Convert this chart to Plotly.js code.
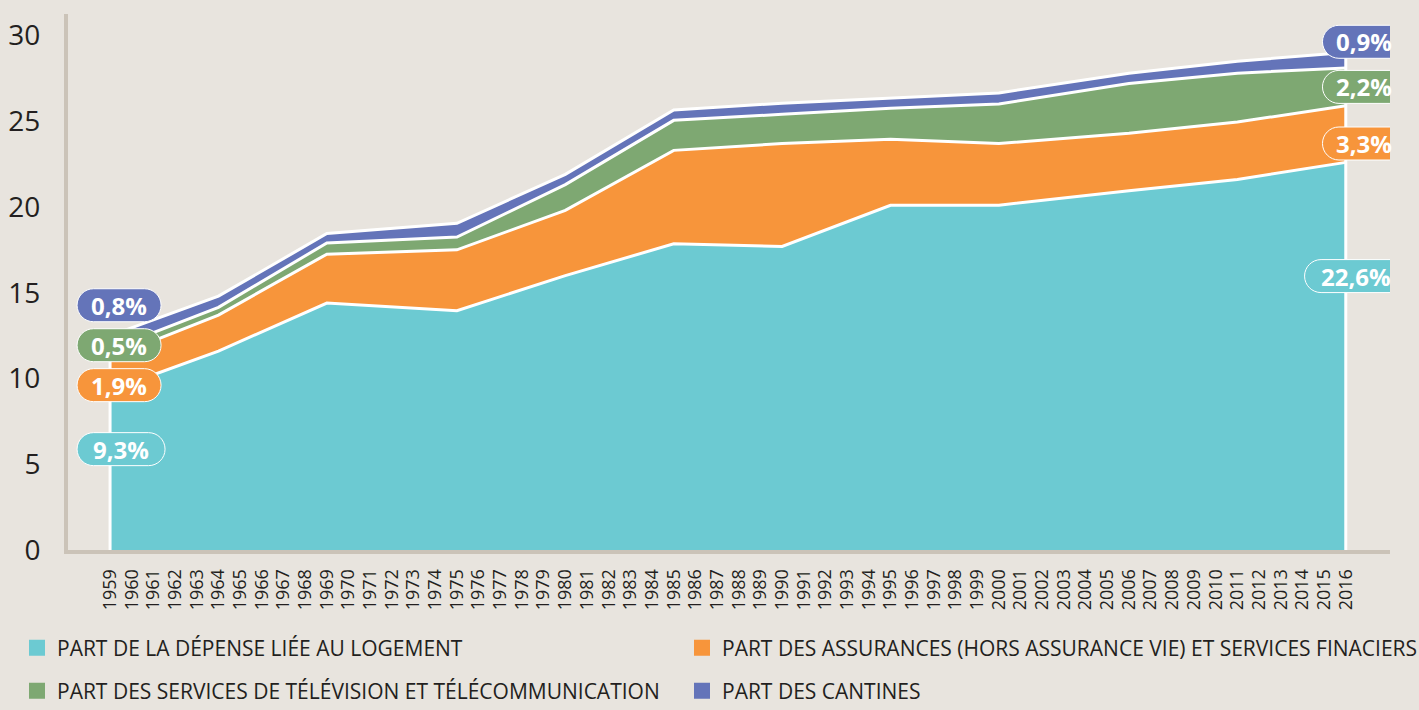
<!DOCTYPE html>
<html>
<head>
<meta charset="utf-8">
<script src="https://cdn.plot.ly/plotly-3.0.1.min.js"></script>
<style>
html,body{margin:0;padding:0;background:#e8e4de;}
#chart{width:1419px;height:710px;}
</style>
</head>
<body>
<div id="chart"></div>
<script>
// ---- DATA ----
const years = [1959, 1964, 1969, 1975, 1980, 1985, 1990, 1995, 2000, 2006, 2011, 2016];
const housing   = [9.3, 11.6, 14.4, 13.95, 16.0, 17.85, 17.7, 20.1, 20.1, 20.95, 21.6, 22.6];
const insurance = [1.9, 2.1, 2.85, 3.55, 3.8, 5.45, 6.0, 3.85, 3.6, 3.35, 3.35, 3.3];
const telecom   = [0.5, 0.45, 0.65, 0.75, 1.5, 1.75, 1.7, 1.8, 2.3, 2.9, 2.85, 2.2];
const canteens  = [0.8, 0.65, 0.55, 0.8, 0.6, 0.6, 0.65, 0.6, 0.65, 0.6, 0.7, 0.9];

const seriesNames = [
  "PART DE LA DÉPENSE LIÉE AU LOGEMENT",
  "PART DES ASSURANCES (HORS ASSURANCE VIE) ET SERVICES FINACIERS",
  "PART DES SERVICES DE TÉLÉVISION ET TÉLÉCOMMUNICATION",
  "PART DES CANTINES"
];
const tickYears = [1959,1960,1961,1962,1963,1964,1965,1966,1967,1968,1969,1970,1971,1972,1973,1974,1975,1976,1977,1978,1979,1980,1981,1982,1983,1984,1985,1986,1987,1988,1989,1990,1991,1992,1993,1994,1995,1996,1997,1998,1999,2000,2001,2002,2003,2004,2005,2006,2007,2008,2009,2010,2011,2012,2013,2014,2015,2016];
const yTicks = [0, 5, 10, 15, 20, 25, 30];
const gridTicks = [5, 10, 15, 20, 25];

// ---- STYLE ----
const colors = ["#6ccad2", "#f7953b", "#7ea872", "#6474b9"];
const bg = "#e8e4de";
const axisColor = "#cbc3b8";
const textColor = "#231f20";
const FONT = "Open Sans, sans-serif";

const series = [housing, insurance, telecom, canteens];

const traces = [];
series.forEach((vals, i) => {
  traces.push({
    x: years, y: vals, type: "scatter", mode: "lines",
    stackgroup: "one", fill: i === 0 ? "tozeroy" : "tonexty",
    fillcolor: colors[i],
    line: {color: "#ffffff", width: 3, shape: "linear"},
    showlegend: false, hoverinfo: "skip", name: seriesNames[i]
  });
});

// white vertical edges at first and last year (from data totals)
const totals = years.map((_, k) => series.reduce((s, arr) => s + arr[k], 0));
[0, years.length - 1].forEach(k => {
  traces.push({
    x: [years[k], years[k]], y: [0, totals[k]], type: "scatter", mode: "lines",
    line: {color: "#ffffff", width: 3}, showlegend: false, hoverinfo: "skip"
  });
});

// legend entries (one legend per entry for exact layout)
const legendIds = ["legend", "legend2", "legend3", "legend4"];
series.forEach((vals, i) => {
  traces.push({
    x: [null], y: [null], type: "scatter", mode: "markers",
    marker: {symbol: "square", size: 17, color: colors[i]},
    name: seriesNames[i], legend: legendIds[i], showlegend: true, hoverinfo: "skip"
  });
});

// ---- value pills ----
const fmt = v => v.toFixed(1).replace(".", ",") + "%";
const pillDefs = [
  // side, series index, y position (axis units), width, center offset (px from anchor year)
  {side: 0, s: 3, y: 14.27, w: 84, dx: 9},
  {side: 0, s: 2, y: 11.94, w: 84, dx: 9},
  {side: 0, s: 1, y: 9.61,  w: 84, dx: 9},
  {side: 0, s: 0, y: 5.88,  w: 88, dx: 11},
  {side: 1, s: 3, y: 29.63, w: 84, dx: 18.7},
  {side: 1, s: 2, y: 27.0,  w: 84, dx: 18.7},
  {side: 1, s: 1, y: 23.7,  w: 84, dx: 18.7},
  {side: 1, s: 0, y: 15.97, w: 102, dx: 9.8}
];
const pillH = 33;
function pillPath(cx, w, h) {
  const r = h / 2, k = 0.5523 * r;
  const x0 = cx - w / 2, x1 = cx + w / 2, y0 = -h / 2, y1 = h / 2;
  return `M${x0 + r},${y0} L${x1 - r},${y0} ` +
    `C${x1 - r + k},${y0} ${x1},${-k} ${x1},0 ` +
    `C${x1},${k} ${x1 - r + k},${y1} ${x1 - r},${y1} ` +
    `L${x0 + r},${y1} ` +
    `C${x0 + r - k},${y1} ${x0},${k} ${x0},0 ` +
    `C${x0},${-k} ${x0 + r - k},${y0} ${x0 + r},${y0} Z`;
}
const shapes = [];
const annotations = [];
pillDefs.forEach(p => {
  const k = p.side === 0 ? 0 : years.length - 1;
  const xa = years[k];
  const val = series[p.s][k];
  shapes.push({
    type: "path", xref: "x", yref: "y", xsizemode: "pixel", ysizemode: "pixel",
    xanchor: xa, yanchor: p.y, path: pillPath(p.dx, p.w, pillH),
    fillcolor: colors[p.s], line: {color: "#ffffff", width: 1}, layer: "above"
  });
  annotations.push({
    x: xa, y: p.y, xref: "x", yref: "y", xshift: p.dx, xanchor: "center", yanchor: "middle",
    text: fmt(val), showarrow: false,
    font: {family: FONT, size: 24, color: "#ffffff", weight: 700}
  });
});

const legendFont = {family: FONT, size: 21, color: textColor};
function legendAt(px, py) {
  return {x: px / 1419, y: 1 - py / 710, xref: "container", yref: "container",
    xanchor: "left", yanchor: "middle", orientation: "h",
    font: legendFont, bgcolor: "rgba(0,0,0,0)", borderwidth: 0,
    itemclick: false, itemdoubleclick: false};
}

const layout = {
  width: 1419, height: 710,
  paper_bgcolor: bg, plot_bgcolor: bg,
  margin: {l: 68, r: 29, t: 14, b: 160, autoexpand: false},
  font: {family: FONT, color: textColor},
  xaxis: {
    type: "linear", range: [1957.06, 2018.04], automargin: false,
    tickmode: "array", tickvals: tickYears, ticktext: tickYears.map(String),
    tickangle: -90, tickfont: {family: FONT, size: 18, color: textColor},
    ticks: "", showgrid: false, zeroline: false,
    showline: true, linecolor: axisColor, linewidth: 4,
    ticklabelstandoff: 8, fixedrange: true
  },
  yaxis: {
    range: [0, 31.25], tickmode: "array", tickvals: yTicks, automargin: false,
    tickfont: {family: FONT, size: 28, color: textColor},
    ticks: "", showgrid: false, zeroline: false,
    showline: true, linecolor: axisColor, linewidth: 4,
    ticklabelstandoff: 18, fixedrange: true
  },
  yaxis2: {
    overlaying: "y", range: [0, 31.25], tickmode: "array", tickvals: gridTicks,
    showticklabels: false, ticks: "", showgrid: true, gridcolor: "#ffffff", automargin: false,
    gridwidth: 3, griddash: "6px,7px", zeroline: false, showline: false, fixedrange: true
  },
  legend: legendAt(17, 648),
  legend2: legendAt(682, 648),
  legend3: legendAt(17, 691),
  legend4: legendAt(682, 691),
  shapes: shapes,
  annotations: annotations,
  hovermode: false
};

Plotly.newPlot("chart", traces, layout, {displayModeBar: false, staticPlot: true});
</script>
</body>
</html>
